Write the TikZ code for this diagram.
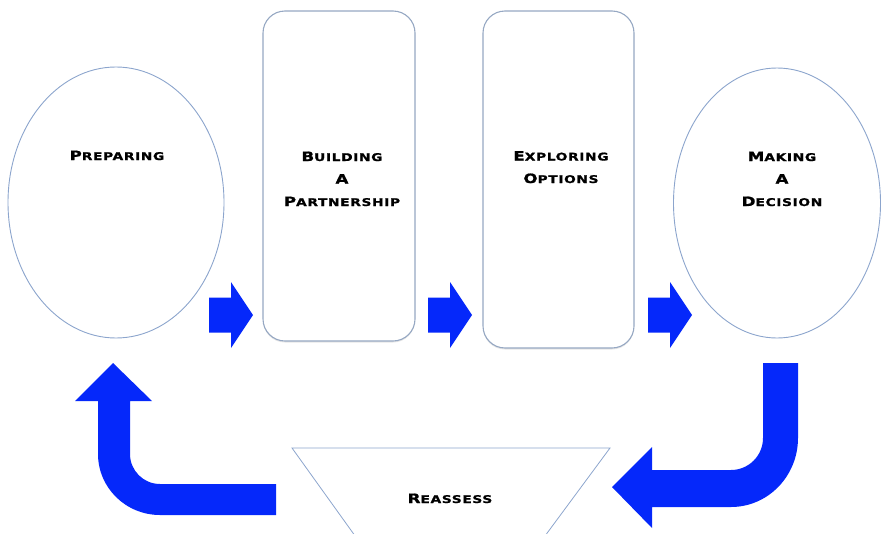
\documentclass[tikz,border=0pt]{standalone}
\usepackage{fontspec}
\usepackage{tikz}
\usetikzlibrary{shapes.geometric, shadows}
\newfontfamily\capfont[FakeStretch=1.3, LetterSpace=6, BoldFeatures={FakeBold=1.2}]{DejaVu Sans}
\newcommand{\capword}[2]{{\fontsize{12.8}{22.5}\selectfont #1}{\fontsize{10.6}{22.5}\selectfont #2}}
\definecolor{edgeblue}{RGB}{140,165,205}
\definecolor{panelgray}{RGB}{150,168,195}
\definecolor{arrowblue}{RGB}{5,40,250}
\tikzset{
  pics/flowarrow/.style={code={
    \fill[arrowblue] (0,-17.5) -- (22,-17.5) -- (22,-33) -- (44,0)
      -- (22,33) -- (22,17.5) -- (0,17.5) -- cycle;
  }}
}

\begin{document}
\begin{tikzpicture}[
  x=1pt, y=-1pt,
  oval/.style={ellipse, draw=edgeblue, line width=0.9pt, fill=white, inner sep=0pt},
  panel/.style={draw=panelgray, line width=1.1pt, rounded corners=22pt, fill=white,
                inner sep=0pt, drop shadow={shadow xshift=0pt, shadow yshift=-1.5pt, opacity=0.2}},
  stagetext/.style={font=\capfont\bfseries\fontsize{10.6}{22.5}\selectfont,
                    align=center, anchor=base, inner sep=0pt},
]
  \useasboundingbox (0,0) rectangle (881,533);
  \clip (0,0) rectangle (881,533);

  % --- stages ------------------------------------------------------
  \node[oval, minimum width=216pt, minimum height=271pt] (prep) at (116,202.5) {};
  \node[panel, minimum width=152pt, minimum height=330pt] (build) at (339,176) {};
  \node[panel, minimum width=151pt, minimum height=337pt] (explore) at (558.5,179.5) {};
  \node[oval, minimum width=207pt, minimum height=270pt] (decide) at (777,203) {};

  % text anchored at the baseline of its last line
  \node[stagetext] (tprep) at (117,160) {\capword{P}{REPARING}};
  \node[stagetext] (tbuild) at (342,206) {\capword{B}{UILDING}\\\capword{A}{}\\\capword{P}{ARTNERSHIP}};
  \node[stagetext] (texplore) at (561,183) {\capword{E}{XPLORING}\\\capword{O}{PTIONS}};
  \node[stagetext] (tdecide) at (782,206) {\capword{M}{AKING}\\\capword{A}{}\\\capword{D}{ECISION}};

  % --- forward arrows ----------------------------------------------
  \pic at (209,315) {flowarrow};
  \pic at (428,315) {flowarrow};
  \pic at (648,315) {flowarrow};

  % --- reassess loop -----------------------------------------------
  \draw[edgeblue, line width=0.8pt] (358,540) -- (292,448) -- (610,448) -- (542,540);
  \node[stagetext] (treassess) at (450,503) {\capword{R}{EASSESS}};

  \fill[arrowblue] (763,363) -- (798,363) -- (798,438)
    arc[start angle=0, end angle=90, x radius=67, y radius=69]
    -- (652,507) -- (652,528) -- (612,487) -- (652,447) -- (652,470) -- (731,470)
    arc[start angle=90, end angle=0, radius=32] -- cycle;

  \fill[arrowblue] (113,363) -- (152,401) -- (130,401) -- (130,454)
    arc[start angle=180, end angle=90, radius=30]
    -- (276,484) -- (276,515) -- (160,515)
    arc[start angle=90, end angle=180, x radius=62, y radius=61]
    -- (98,401) -- (75,401) -- cycle;
\end{tikzpicture}
\end{document}
